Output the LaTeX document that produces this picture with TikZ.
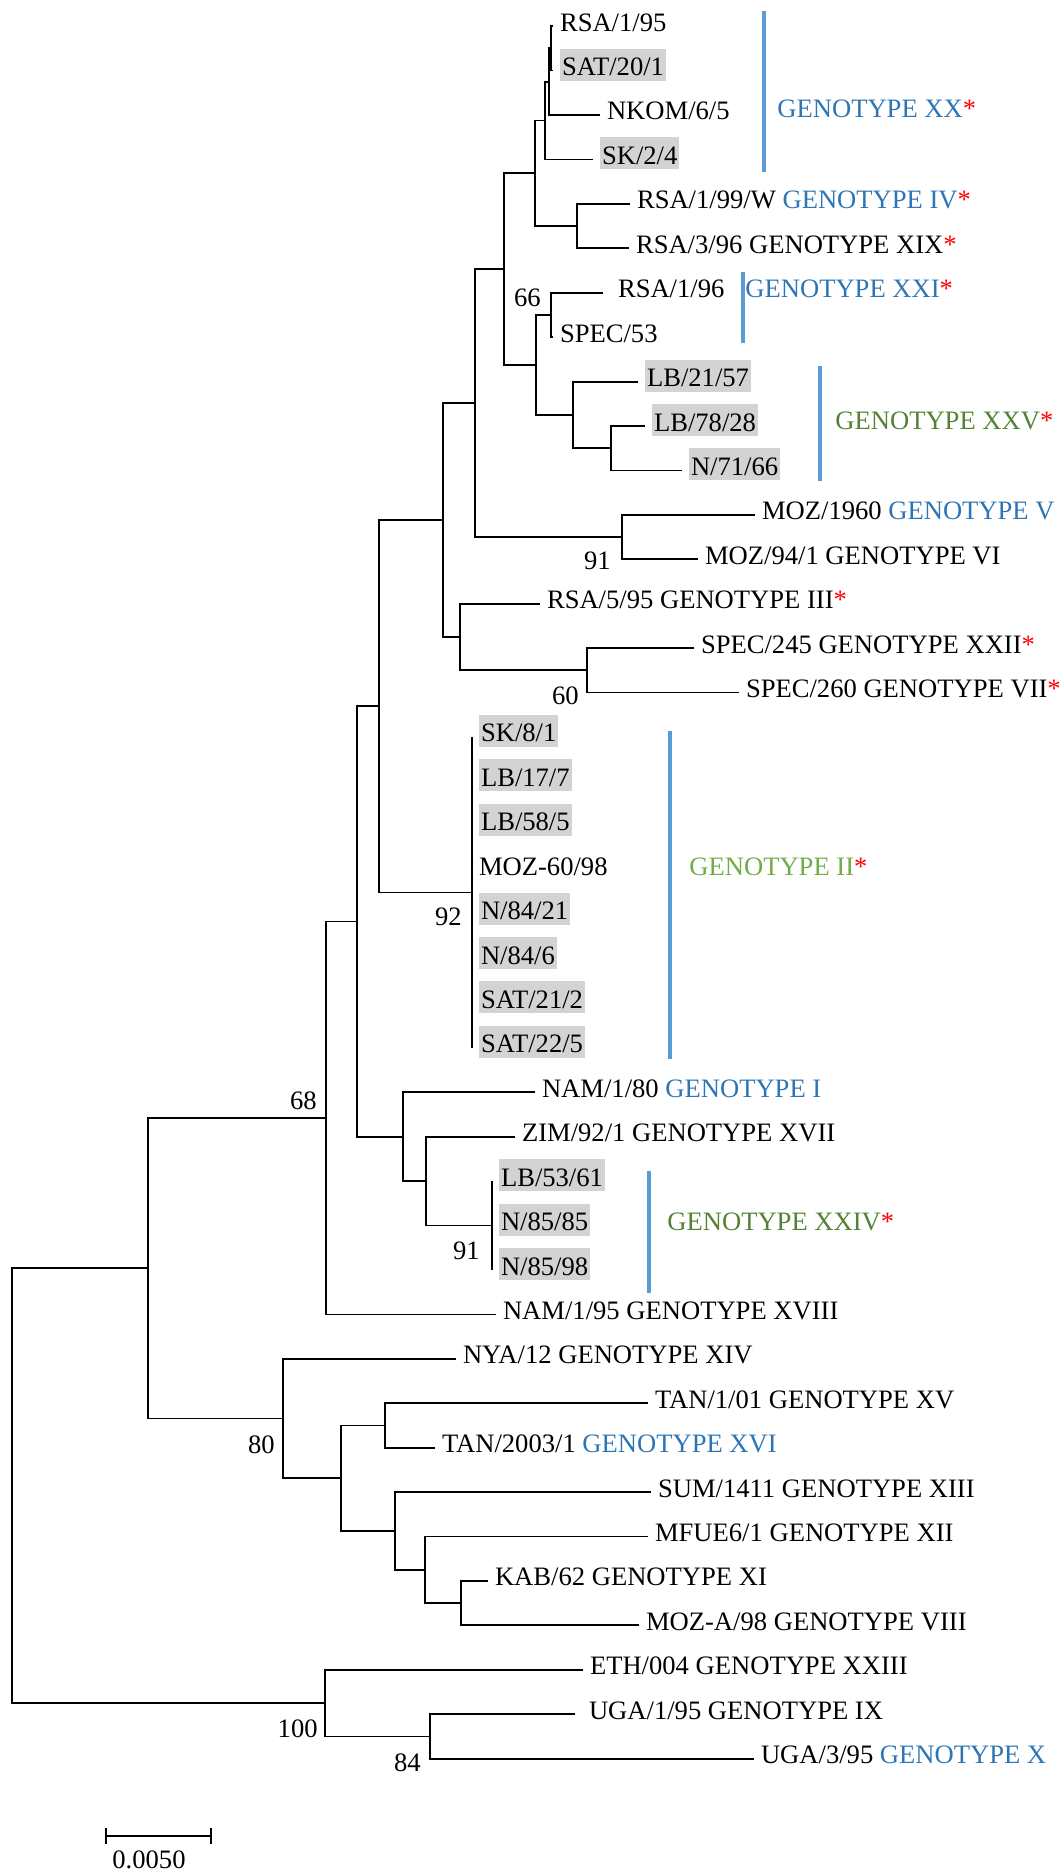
\documentclass[tikz,border=0pt]{standalone}
\usepackage{fontspec}
\setmainfont{Liberation Serif}
\usepackage{xcolor}
\usepackage{tikz}
\definecolor{gtblue}{RGB}{46,117,182}
\definecolor{barblue}{RGB}{91,155,213}
\definecolor{gtgreen}{RGB}{84,130,53}
\definecolor{gtlight}{RGB}{112,173,71}
\definecolor{shade}{RGB}{211,211,211}

\begin{document}
\begin{tikzpicture}[
      x=0.5pt, y=-0.5pt,
      font=\fontsize{13.3pt}{16pt}\selectfont,
      leaf/.style ={anchor=west, inner xsep=1pt, inner ysep=0.5pt, outer xsep=2.5pt, outer ysep=0pt, text height=10pt, text depth=5pt},
      shaded/.style ={leaf, outer xsep=3.5pt, preaction={fill=shade, transform canvas={yshift=3pt}}},
      support/.style ={anchor=base east, inner sep=0pt},
      genotype/.style ={anchor=base west, inner sep=0pt},
      branch/.style ={line width=0.9pt},
      clade/.style ={line width=1.7pt, draw=barblue}
    ]
    \useasboundingbox (0, 0) rectangle (1062, 1872) ;

    \coordinate (A) at (551, 48.4) ;
    \coordinate (B) at (549, 81.7) ;
    \coordinate (C) at (545, 120.6) ;
    \coordinate (E) at (577, 226.1) ;
    \coordinate (D) at (535, 173.4) ;
    \coordinate (G) at (551, 314.9) ;
    \coordinate (J) at (611, 448.2) ;
    \coordinate (I) at (573, 414.9) ;
    \coordinate (H) at (536, 364.9) ;
    \coordinate (F) at (504, 269.2) ;
    \coordinate (L) at (622, 537.0) ;
    \coordinate (K) at (475, 403.1) ;
    \coordinate (O) at (587, 670.3) ;
    \coordinate (N) at (460, 637.0) ;
    \coordinate (M) at (443, 520.1) ;
    \coordinate (R) at (472, 892.4) ;
    \coordinate (Q) at (379, 706.2) ;
    \coordinate (Y) at (492, 1225.5) ;
    \coordinate (X) at (426, 1181.1) ;
    \coordinate (T) at (403, 1136.7) ;
    \coordinate (S) at (357, 921.5) ;
    \coordinate (U) at (326, 1118.0) ;
    \coordinate (Z2) at (385, 1425.4) ;
    \coordinate (Z5) at (461, 1603.1) ;
    \coordinate (Z4) at (425, 1569.8) ;
    \coordinate (Z3) at (395, 1531.0) ;
    \coordinate (Z1) at (341, 1478.2) ;
    \coordinate (W) at (283, 1418.5) ;
    \coordinate (V) at (148, 1268.3) ;
    \coordinate (AB) at (430, 1736.4) ;
    \coordinate (AA) at (325, 1703.1) ;
    \coordinate (root) at (12, 1485.7) ;

    \node [leaf] (rsa195) at (553, 26.2) {RSA/1/95} ;
    \node [shaded] (sat201) at (553, 70.6) {SAT/20/1} ;
    \node [leaf] (nkom) at (600, 115.0) {NKOM/6/5} ;
    \node [shaded] (sk24) at (593, 159.5) {SK/2/4} ;
    \node [leaf] (rsa199w) at (630, 203.9) {RSA/1/99/W \textcolor{gtblue}{GENOTYPE IV}\textcolor{red}{*}} ;
    \node [leaf] (rsa396) at (629, 248.3) {RSA/3/96 GENOTYPE XIX\textcolor{red}{*}} ;
    \node [leaf, outer xsep=6.5pt] (rsa196) at (603, 292.7) {RSA/1/96} ;
    \node [leaf] (spec53) at (553, 337.1) {SPEC/53} ;
    \node [shaded] (lb2157) at (638, 381.6) {LB/21/57} ;
    \node [shaded] (lb7828) at (645, 426.0) {LB/78/28} ;
    \node [shaded] (n7166) at (682, 470.4) {N/71/66} ;
    \node [leaf] (moz1960) at (755, 514.8) {MOZ/1960 \textcolor{gtblue}{GENOTYPE V}} ;
    \node [leaf] (moz941) at (698, 559.2) {MOZ/94/1 GENOTYPE VI} ;
    \node [leaf] (rsa595) at (540, 603.7) {RSA/5/95 GENOTYPE III\textcolor{red}{*}} ;
    \node [leaf] (spec245) at (694, 648.1) {SPEC/245 GENOTYPE XXII\textcolor{red}{*}} ;
    \node [leaf] (spec260) at (739, 692.5) {SPEC/260 GENOTYPE VII\textcolor{red}{*}} ;
    \node [shaded] (sk81) at (472, 736.9) {SK/8/1} ;
    \node [shaded] (lb177) at (472, 781.3) {LB/17/7} ;
    \node [shaded] (lb585) at (472, 825.8) {LB/58/5} ;
    \node [leaf] (moz6098) at (472, 870.2) {MOZ-60/98} ;
    \node [shaded] (n8421) at (472, 914.6) {N/84/21} ;
    \node [shaded] (n846) at (472, 959.0) {N/84/6} ;
    \node [shaded] (sat212) at (472, 1003.4) {SAT/21/2} ;
    \node [shaded] (sat225) at (472, 1047.9) {SAT/22/5} ;
    \node [leaf] (nam180) at (535, 1092.3) {NAM/1/80 \textcolor{gtblue}{GENOTYPE I}} ;
    \node [leaf] (zim921) at (515, 1136.7) {ZIM/92/1 GENOTYPE XVII} ;
    \node [shaded] (lb5361) at (492, 1181.1) {LB/53/61} ;
    \node [shaded] (n8585) at (492, 1225.5) {N/85/85} ;
    \node [shaded] (n8598) at (492, 1270.0) {N/85/98} ;
    \node [leaf] (nam195) at (496, 1314.4) {NAM/1/95 GENOTYPE XVIII} ;
    \node [leaf] (nya12) at (456, 1358.8) {NYA/12 GENOTYPE XIV} ;
    \node [leaf] (tan101) at (648, 1403.2) {TAN/1/01 GENOTYPE XV} ;
    \node [leaf] (tan2003) at (435, 1447.6) {TAN/2003/1 \textcolor{gtblue}{GENOTYPE XVI}} ;
    \node [leaf] (sum1411) at (651, 1492.1) {SUM/1411 GENOTYPE XIII} ;
    \node [leaf] (mfue61) at (648, 1536.5) {MFUE6/1 GENOTYPE XII} ;
    \node [leaf] (kab62) at (488, 1580.9) {KAB/62 GENOTYPE XI} ;
    \node [leaf] (mozA98) at (639, 1625.3) {MOZ-A/98 GENOTYPE VIII} ;
    \node [leaf] (eth004) at (583, 1669.7) {ETH/004 GENOTYPE XXIII} ;
    \node [leaf, outer xsep=6pt] (uga195) at (575, 1714.2) {UGA/1/95 GENOTYPE IX} ;
    \node [leaf] (uga395) at (754, 1758.6) {UGA/3/95 \textcolor{gtblue}{GENOTYPE X}} ;

    \draw [branch] (rsa195.west) -| (A) |- (sat201.west) ;
    \draw [branch] (A) -| (B) |- (nkom.west) ;
    \draw [branch] (B) -| (C) |- (sk24.west) ;
    \draw [branch] (rsa199w.west) -| (E) |- (rsa396.west) ;
    \draw [branch] (C) -| (D) |- (E) ;
    \draw [branch] (rsa196.west) -| (G) |- (spec53.west) ;
    \draw [branch] (lb7828.west) -| (J) |- (n7166.west) ;
    \draw [branch] (lb2157.west) -| (I) |- (J) ;
    \draw [branch] (G) -| (H) |- (I) ;
    \draw [branch] (D) -| (F) |- (H) ;
    \draw [branch] (moz1960.west) -| (L) |- (moz941.west) ;
    \draw [branch] (F) -| (K) |- (L) ;
    \draw [branch] (spec245.west) -| (O) |- (spec260.west) ;
    \draw [branch] (rsa595.west) -| (N) |- (O) ;
    \draw [branch] (K) -| (M) |- (N) ;
    \draw [branch] (sk81.west) -| (R) |- (sat225.west) ;
    \draw [branch] (M) -| (Q) |- (R) ;
    \draw [branch] (lb5361.west) -| (Y) |- (n8598.west) ;
    \draw [branch] (zim921.west) -| (X) |- (Y) ;
    \draw [branch] (nam180.west) -| (T) |- (X) ;
    \draw [branch] (Q) -| (S) |- (T) ;
    \draw [branch] (S) -| (U) |- (nam195.west) ;
    \draw [branch] (tan101.west) -| (Z2) |- (tan2003.west) ;
    \draw [branch] (kab62.west) -| (Z5) |- (mozA98.west) ;
    \draw [branch] (mfue61.west) -| (Z4) |- (Z5) ;
    \draw [branch] (sum1411.west) -| (Z3) |- (Z4) ;
    \draw [branch] (Z2) -| (Z1) |- (Z3) ;
    \draw [branch] (nya12.west) -| (W) |- (Z1) ;
    \draw [branch] (U) -| (V) |- (W) ;
    \draw [branch] (uga195.west) -| (AB) |- (uga395.west) ;
    \draw [branch] (eth004.west) -| (AA) |- (AB) ;
    \draw [branch] (V) -| (root) |- (AA) ;

    \node [support] (bs66) at (541, 307) {66} ;
    \node [support] (bs91a) at (611, 569) {91} ;
    \node [support] (bs60) at (579, 704) {60} ;
    \node [support] (bs92) at (462, 925) {92} ;
    \node [support] (bs68) at (317, 1109) {68} ;
    \node [support] (bs91b) at (480, 1259) {91} ;
    \node [support] (bs80) at (275, 1453) {80} ;
    \node [support] (bs100) at (318, 1737) {100} ;
    \node [support] (bs84) at (421, 1771) {84} ;

    \draw [clade] (764, 11) -- (764, 172) ;
    \draw [clade] (743, 272) -- (743, 343) ;
    \draw [clade] (820, 366) -- (820, 481) ;
    \draw [clade] (670, 731) -- (670, 1059) ;
    \draw [clade] (649, 1171) -- (649, 1293) ;
    \node [genotype, text=gtblue] (gxx) at (777, 118) {GENOTYPE XX\textcolor{red}{*}} ;
    \node [genotype, text=gtblue] (gxxi) at (745, 298) {GENOTYPE XXI\textcolor{red}{*}} ;
    \node [genotype, text=gtgreen] (gxxv) at (835, 429) {GENOTYPE XXV\textcolor{red}{*}} ;
    \node [genotype, text=gtlight] (gii) at (689, 875) {GENOTYPE II\textcolor{red}{*}} ;
    \node [genotype, text=gtgreen] (gxxiv) at (667, 1230) {GENOTYPE XXIV\textcolor{red}{*}} ;

    \coordinate (scl) at (106, 1836) ;
    \coordinate (scr) at (211, 1836) ;
    \draw [branch] (scl) -- (scr) ;
    \draw [line width=0.6pt] (scl) +(0, -8) -- +(0, 8) ;
    \draw [line width=0.6pt] (scr) +(0, -8) -- +(0, 8) ;
    \node [anchor=base, inner sep=0pt] (scale) at (149, 1868) {0.0050} ;
  \end{tikzpicture}
\end{document}
